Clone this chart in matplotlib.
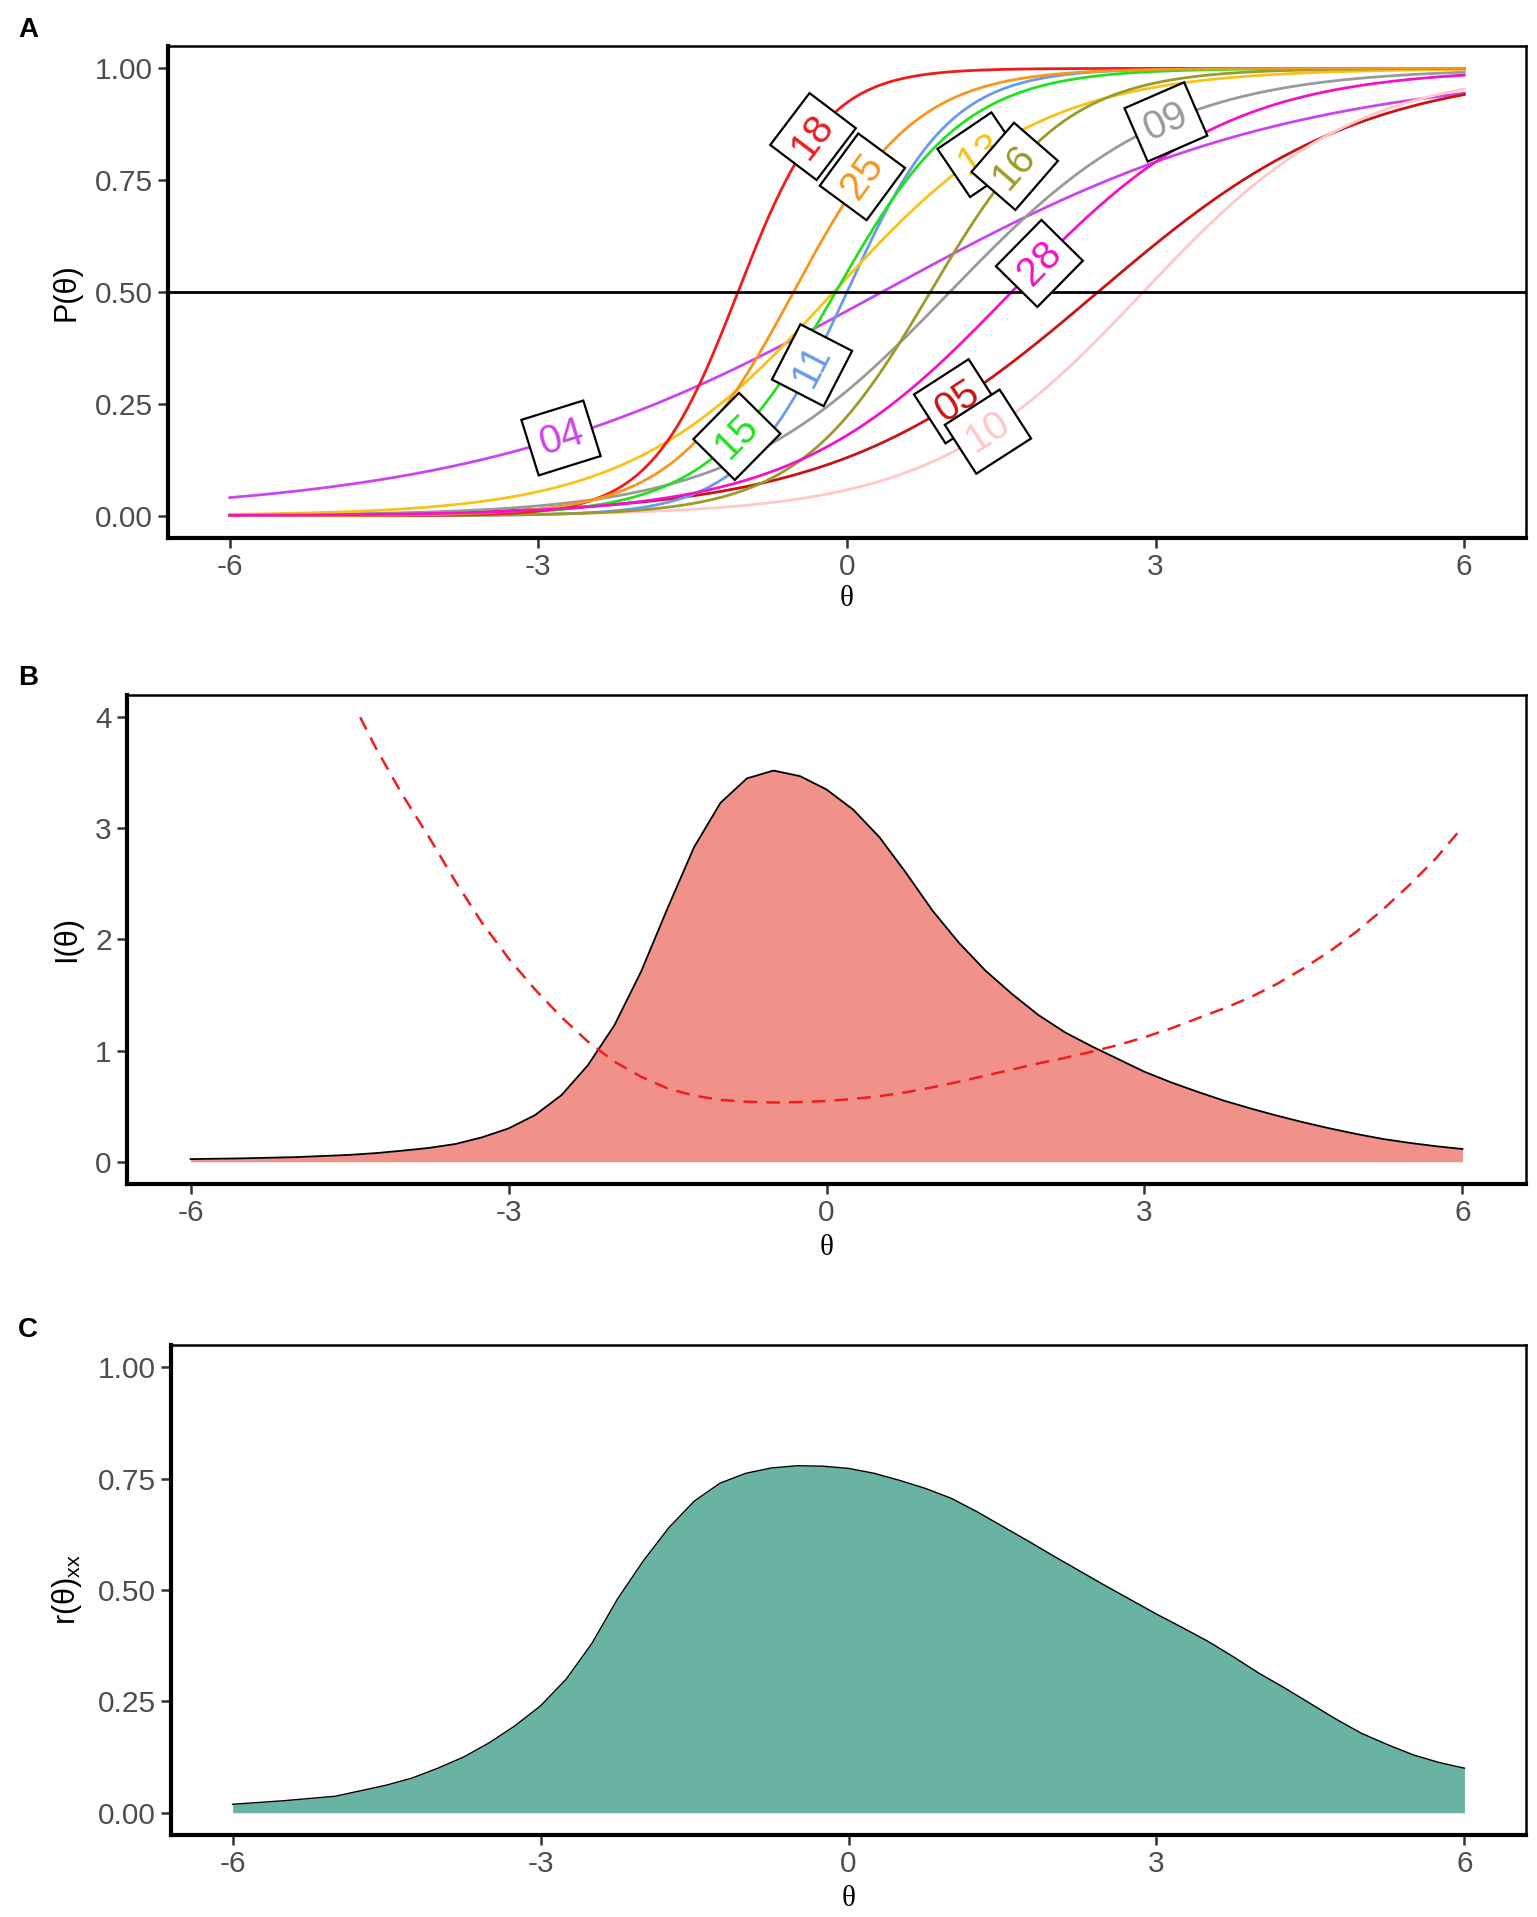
import numpy as np
import matplotlib.pyplot as plt
import matplotlib.transforms as mtransforms

plt.rcParams['font.family'] = ['Liberation Sans', 'DejaVu Sans']
plt.rcParams['axes.unicode_minus'] = False
plt.rcParams['mathtext.fontset'] = 'custom'
plt.rcParams['mathtext.rm'] = 'Liberation Sans'

# --- Panel A : item parameters (2PL, a = slope, b = location) ---
items = ['04', '05', '09', '10', '11', '13', '15', '16', '18', '25', '28']
disc = [0.50, 0.78, 0.95, 0.97, 2.00, 1.00, 1.60, 1.55, 2.35, 1.70, 0.95]
loc = [0.34, 2.44, 1.00, 2.88, 0.00, -0.13, -0.11, 0.81, -1.06, -0.52, 1.60]
colours = ['#CC44EE', '#C81414', '#9A9A9A', '#FFC8C8', '#6A9BEA', '#F8C218',
           '#22E022', '#9C9A28', '#EE1C1C', '#F7961E', '#F014C8']
label_theta = [-2.78, 1.07, 3.10, 1.37, -0.34, 1.30, -1.07, 1.63, -0.33, 0.15, 1.87]

# --- Panel B : test information and standard error ---
theta_info = [-6, -5.5, -5, -4.5, -4.25, -4, -3.75, -3.5, -3.25, -3, -2.75, -2.5, -2.25,
              -2, -1.75, -1.5, -1.25, -1, -0.75, -0.5, -0.25, 0, 0.25, 0.5, 0.75, 1,
              1.25, 1.5, 1.75, 2, 2.25, 2.5, 2.75, 3, 3.25, 3.5, 3.75, 4, 4.25, 4.5,
              4.75, 5, 5.25, 5.5, 5.75, 6]
info = [0.024, 0.031, 0.042, 0.062, 0.078, 0.10, 0.125, 0.16, 0.22, 0.30, 0.42, 0.60, 0.87,
        1.23, 1.71, 2.28, 2.83, 3.23, 3.45, 3.52, 3.47, 3.35, 3.17, 2.92, 2.60, 2.26,
        1.97, 1.72, 1.51, 1.32, 1.165, 1.04, 0.925, 0.81, 0.715, 0.63, 0.55, 0.48, 0.415, 0.355,
        0.30, 0.25, 0.205, 0.17, 0.14, 0.115]
theta_se = [-4.4, -4.25, -4.0, -3.75, -3.5, -3.25, -3.0, -2.75, -2.5, -2.25, -2.0, -1.75,
            -1.5, -1.25, -1.0, -0.75, -0.5, -0.25, 0, 0.25, 0.5, 0.75, 1.0, 1.25, 1.5, 1.75,
            2.0, 2.25, 2.5, 2.75, 3.0, 3.25, 3.5, 3.75, 4.0, 4.25, 4.5, 4.75, 5.0, 5.25,
            5.5, 5.75, 6.0]
se = [4.0, 3.72, 3.30, 2.92, 2.52, 2.15, 1.83, 1.55, 1.30, 1.08, 0.90, 0.765,
      0.66, 0.595, 0.557, 0.54, 0.533, 0.537, 0.547, 0.565, 0.59, 0.625, 0.67, 0.72, 0.775,
      0.83, 0.885, 0.935, 0.99, 1.05, 1.12, 1.20, 1.29, 1.38, 1.48, 1.60, 1.74, 1.895,
      2.07, 2.27, 2.49, 2.73, 3.01]

# --- Panel C : reliability ---
theta_rel = [-6, -5.5, -5, -4.5, -4.25, -4, -3.75, -3.5, -3.25, -3, -2.75, -2.5, -2.25, -2,
             -1.75, -1.5, -1.25, -1, -0.75, -0.5, -0.25, 0, 0.25, 0.5, 0.75, 1, 1.25, 1.5,
             1.75, 2, 2.25, 2.5, 2.75, 3, 3.25, 3.5, 3.75, 4, 4.25, 4.5, 4.75, 5, 5.25,
             5.5, 5.75, 6]
rel = [0.019, 0.027, 0.037, 0.062, 0.078, 0.10, 0.125, 0.157, 0.195, 0.24, 0.30, 0.38, 0.48,
       0.565, 0.64, 0.70, 0.74, 0.762, 0.774, 0.779, 0.778, 0.773, 0.762, 0.746, 0.728, 0.706,
       0.676, 0.643, 0.61, 0.576, 0.543, 0.51, 0.478, 0.446, 0.416, 0.385, 0.35, 0.313,
       0.28, 0.245, 0.21, 0.178, 0.153, 0.13, 0.113, 0.10]

W, H = 1537, 1917
fig = plt.figure(figsize=(W / 100, H / 100), dpi=100)


def rect(left, right, top, bottom):
    return [left / W, 1 - bottom / H, (right - left) / W, (bottom - top) / H]


def style(ax, xlab_y, ylab):
    for s in ['top', 'right']:
        ax.spines[s].set_linewidth(1.8)
    for s in ['left', 'bottom']:
        ax.spines[s].set_linewidth(3.0)
    ax.tick_params(length=7, width=1.8, color='#333333', labelsize=21.5,
                   labelcolor='#4D4D4D', pad=4)
    ax.set_xlim(-6.6, 6.6)
    ax.set_xticks([-6, -3, 0, 3, 6])
    ax.set_xlabel('θ', fontsize=21, family=['Liberation Serif', 'DejaVu Serif'])
    ax.xaxis.label.set_va('center')
    ax.xaxis.set_label_coords(0.5, 1 - xlab_y / H,
                              transform=mtransforms.blended_transform_factory(ax.transAxes, fig.transFigure))
    ax.set_ylabel(ylab, fontsize=22)
    ax.yaxis.label.set_va('center')
    ax.yaxis.set_label_coords(67 / W, 0.5,
                              transform=mtransforms.blended_transform_factory(fig.transFigure, ax.transAxes))


# ---------------- A ----------------
axA = fig.add_axes(rect(168, 1526, 46, 538))
th = np.linspace(-6, 6, 481)
curves = []
for a, b, c in zip(disc, loc, colours):
    p = 1 / (1 + np.exp(-a * (th - b)))
    curves.append(p)
    axA.plot(th, p, color=c, lw=2.0)
axA.axhline(0.5, color='black', lw=2.0)
axA.set_ylim(-0.05, 1.05)
axA.set_yticks([0, 0.25, 0.5, 0.75, 1.0])
axA.set_yticklabels(['0.00', '0.25', '0.50', '0.75', '1.00'])
style(axA, 599, 'P(θ)')

for k, (lab, t0, c) in enumerate(zip(items, label_theta, colours)):
    p = curves[k]
    y0 = np.interp(t0, th, p)
    slope = np.interp(t0, th, np.gradient(p, th))
    p1 = axA.transData.transform((t0, y0))
    p2 = axA.transData.transform((t0 + 0.01, y0 + 0.01 * slope))
    ang = np.degrees(np.arctan2(p2[1] - p1[1], p2[0] - p1[0]))
    axA.text(t0, y0, lab, color=c, fontsize=29, rotation=ang, rotation_mode='anchor',
             ha='center', va='center', zorder=5 + k,
             bbox=dict(boxstyle='square,pad=0.25', fc='white', ec='black', lw=1.6))

# ---------------- B ----------------
axB = fig.add_axes(rect(127, 1526, 695, 1184))
axB.fill_between(theta_info, info, 0, color='#F0928A', lw=0)
axB.plot(theta_info, info, color='black', lw=1.3)
axB.plot(theta_se, se, color='#F01E1E', lw=1.8, dashes=(5.5, 3.6))
axB.set_ylim(-0.2, 4.2)
axB.set_yticks([0, 1, 2, 3, 4])
style(axB, 1248, 'I(θ)')

# ---------------- C ----------------
axC = fig.add_axes(rect(171, 1526, 1345, 1835))
axC.fill_between(theta_rel, rel, 0, color='#69B3A2', lw=0)
axC.plot(theta_rel, rel, color='black', lw=1.0)
axC.set_ylim(-0.05, 1.05)
axC.set_yticks([0, 0.25, 0.5, 0.75, 1.0])
axC.set_yticklabels(['0.00', '0.25', '0.50', '0.75', '1.00'])
style(axC, 1899, 'r(θ)$_{\\mathregular{xx}}$')

for letter, yy in [('A', 30), ('B', 678), ('C', 1330)]:
    fig.text(18 / W, 1 - yy / H, letter, fontsize=20, weight='bold', va='center', ha='left')

fig.savefig('out.png', dpi=100)
